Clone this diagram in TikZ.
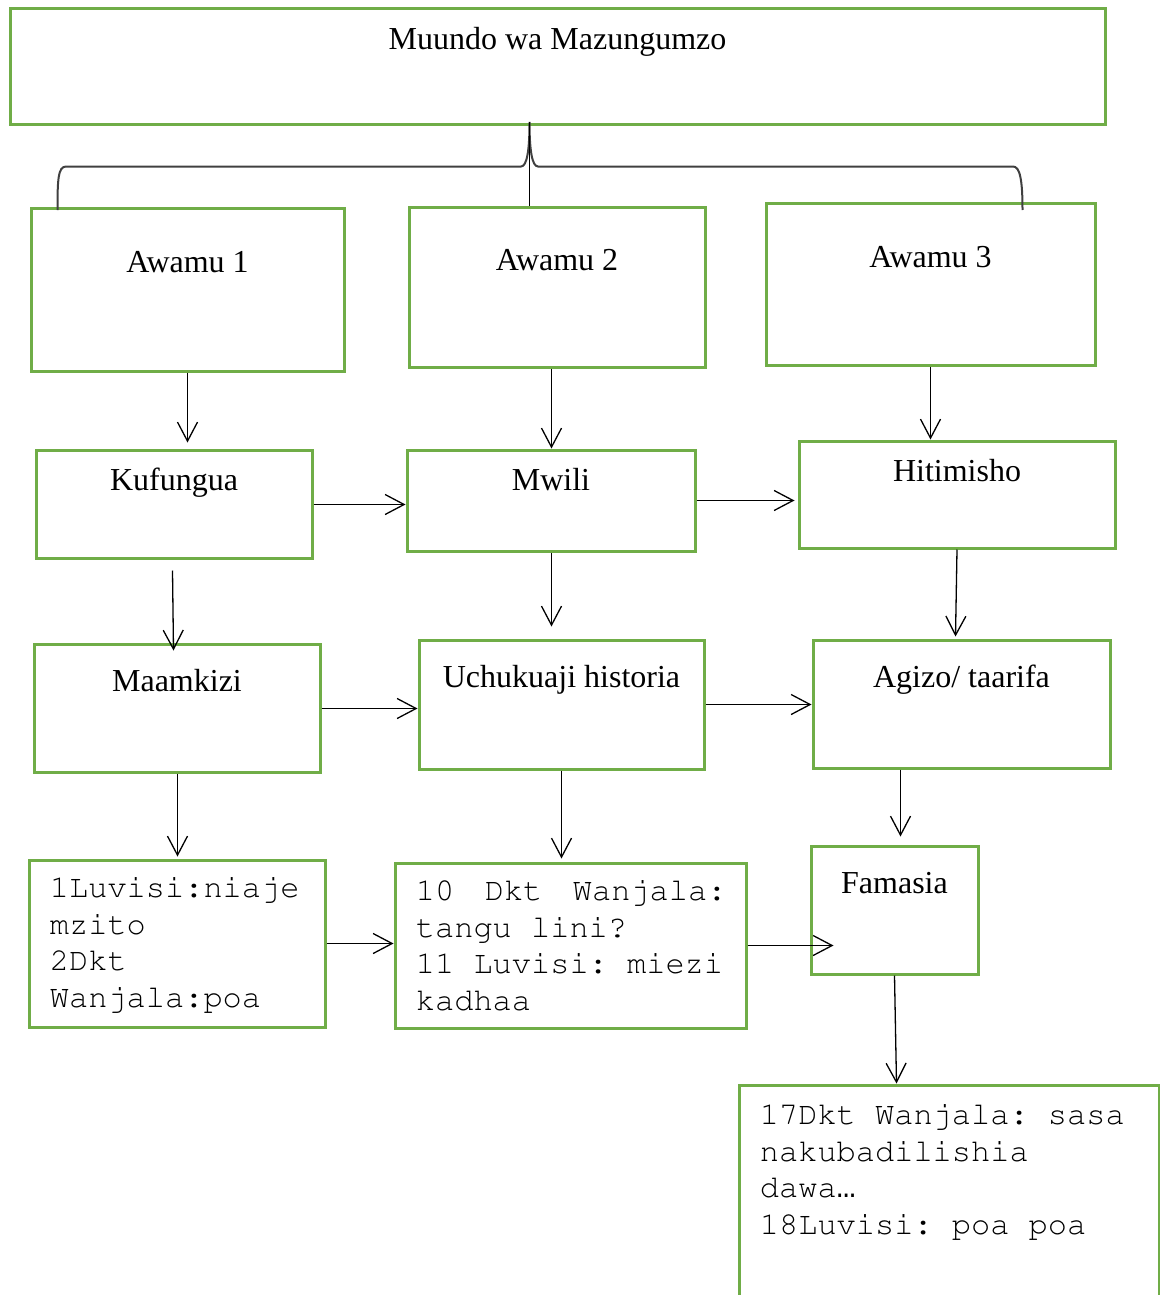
\documentclass[tikz,border=0pt]{standalone}
\usepackage{fontspec}
\setmainfont{Liberation Serif}
\setmonofont{Liberation Mono}
\usetikzlibrary{arrows.meta,fit,calc}
\definecolor{boxgreen}{HTML}{70AD47}
\definecolor{bracegray}{HTML}{404040}
% thin Courier for the dialogue excerpts
\newcommand{\dialogfont}{\fontencoding{T1}\fontfamily{pcr}\selectfont\frenchspacing}

\begin{document}
\begin{tikzpicture}[x=0.5pt,y=-0.5pt,
  box/.style={draw=boxgreen, line width=1.5pt, inner sep=0pt, rectangle},
  title/.style={anchor=base, inner sep=0pt, font=\fontsize{16}{19}\selectfont},
  dialog/.style={anchor=north west, align=left, inner sep=0pt,
    font=\dialogfont\fontsize{16}{18.35}\selectfont},
  arr/.style={line width=0.65pt, -{Straight Barb[length=9.5pt,width=10pt]}}
]
\useasboundingbox (0,0) rectangle (1160,1295);
\clip (0,0) rectangle (1160,1295);

% headline box
\node[box, fit={(10,9) (1105,125)},
  label={[title, yshift=-21pt]north:Muundo wa Mazungumzo}] (top) {};

% the three stages
\node[box, fit={(31,208) (344,371)},
  label={[title, yshift=-33pt]north:Awamu 1}] (aw1) {};
\node[box, fit={(409,207) (705,367)},
  label={[title, yshift=-32.5pt]north:Awamu 2}] (aw2) {};
\node[box, fit={(766,203) (1095,365)},
  label={[title, yshift=-33pt]north:Awamu 3}] (aw3) {};

% parts of the conversation
\node[box, fit={(36,450) (312,558)},
  label={[title, yshift=-21pt]north:Kufungua}] (kuf) {};
\node[box, fit={(407,450) (695,551)},
  label={[title, yshift=-21pt]north:Mwili}] (mwi) {};
\node[box, fit={(799,441) (1115,548)},
  label={[title, yshift=-21pt]north:Hitimisho}] (hit) {};

\node[box, fit={(34,644) (320,772)},
  label={[title, yshift=-24.5pt]north:Maamkizi}] (maa) {};
\node[box, fit={(419,640) (704,769)},
  label={[title, yshift=-24.5pt]north:Uchukuaji historia}] (uch) {};
\node[box, fit={(813,640) (1110,768)},
  label={[title, yshift=-24.5pt]north:Agizo/ taarifa}] (agi) {};

\node[box, fit={(811,846) (978,974)},
  label={[title, yshift=-24.5pt]north:Famasia}] (fam) {};

% dialogue excerpts
\node[box, fit={(29,860) (325,1027)},
  label={[dialog, xshift=11pt, yshift=-9pt]north west:{1Luvisi:niaje\\mzito\\2Dkt\\Wanjala:poa}}] (d1) {};
\node[box, fit={(395,863) (746,1028)},
  label={[dialog, xshift=11pt, yshift=-9pt]north west:{10\hspace{15.25pt}Dkt\hspace{15.25pt}Wanjala:\\tangu lini?\\11 Luvisi: miezi\\kadhaa}}] (d2) {};
\node[box, fit={(739,1085) (1159,1330)},
  label={[dialog, xshift=11pt, yshift=-10pt]north west:{17Dkt Wanjala: sasa\\nakubadilishia\\dawa{\fontencoding{TU}\ttfamily\fontsize{16}{18.35}\selectfont …}\\18Luvisi: poa poa}}] (d3) {};

% brace joining the headline to the stages
\coordinate (bt) at (529.5,122);
\draw[bracegray, line width=1pt]
  (57.5,210) .. controls (57.5,180) and (58,166.5) .. (66,166.5) -- (521,166.5)
  .. controls (527,166.5) and (529.5,150) .. (bt)
  .. controls (529.5,150) and (532,166.5) .. (538,166.5) -- (1013,166.5)
  .. controls (1020,166.5) and (1022.5,180) .. (1022.5,210);
\draw[line width=0.65pt] (bt) -- (bt |- aw2.north);

% connectors
\draw[arr, shorten >=3pt] (aw1.south) -- (aw1.south |- kuf.north);
\draw[arr] ($(aw2.south -| mwi.north)+(0.5,0)$) -- ($(mwi.north)+(0.5,0)$);
\draw[arr] (aw3.south) -- (aw3.south |- hit.north);

\draw[arr] ($(kuf.east)+(0,0.5)$) -- ($(kuf.east -| mwi.west)+(0,0.5)$);
\draw[arr, shorten >=1.5pt] (mwi.east) -- (mwi.east -| hit.west);

\draw[arr] ($(kuf.south)+(-1.5,11)$) -- ($(maa.north)+(-3.5,8)$);
\draw[arr] ($(mwi.south)+(0.5,0)$) -- ($(mwi.south |- uch.north)+(0.5,-12)$);
\draw[arr] (hit.south) -- ($(agi.north)+(-6,-2)$);

\draw[arr] ($(maa.east)+(0,0.5)$) -- ($(maa.east -| uch.west)+(0,0.5)$);
\draw[arr] (uch.east) -- (uch.east -| agi.west);

\draw[arr, shorten >=1pt] ($(maa.south)+(0.5,0)$) -- ($(maa.south |- d1.north)+(0.5,0)$);
\draw[arr, shorten >=1.5pt] (uch.south) -- (uch.south |- d2.north);
\draw[arr] ($(agi.south)+(-61,0)$) -- ($(fam.north)+(6,-8)$);

\draw[arr] (d1.east) -- (d1.east -| d2.west);
\draw[arr] (d2.east) -- ($(d2.east -| fam.west)+(24,0)$);
\draw[arr] (fam.south) -- ($(fam.south |- d3.north)+(2,0)$);
\end{tikzpicture}
\end{document}
